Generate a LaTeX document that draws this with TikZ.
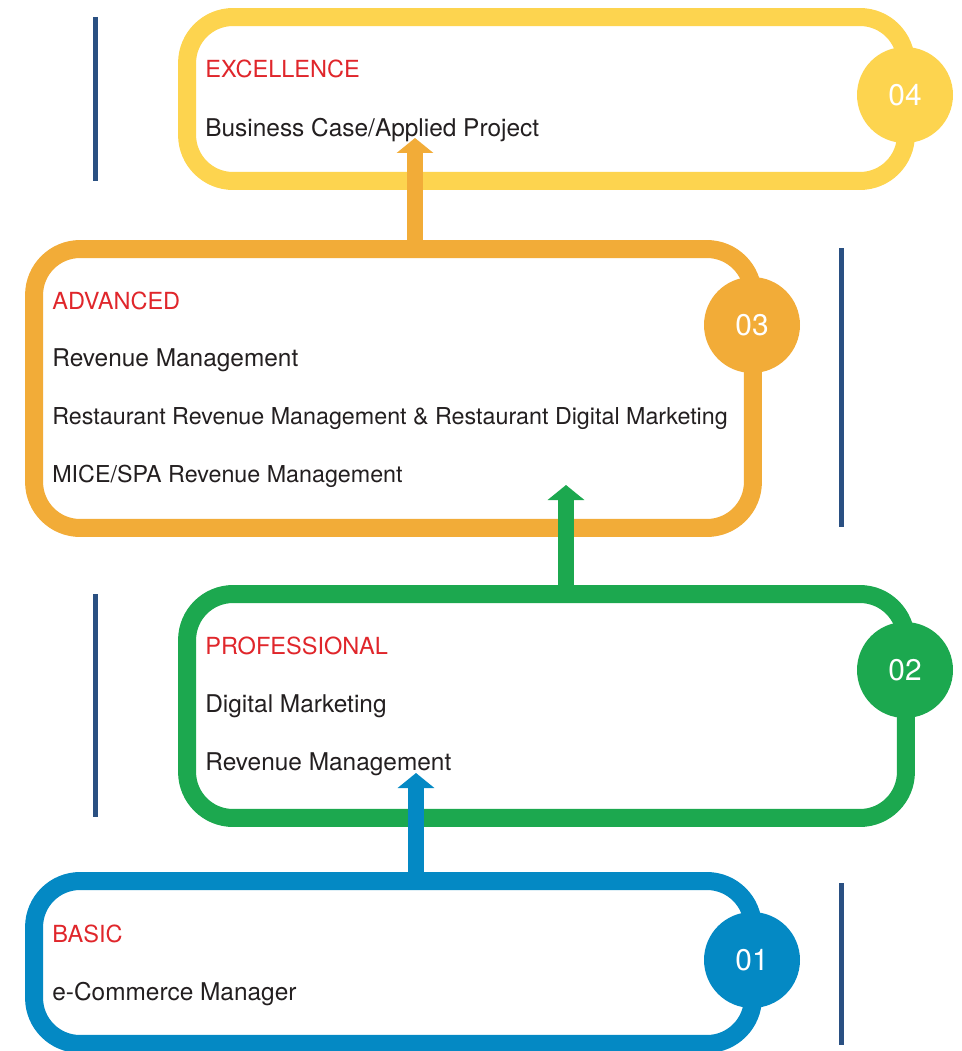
\documentclass[tikz,border=0pt]{standalone}
\usepackage{fontspec}
\setmainfont{TeX Gyre Heros}
\usepackage{tikz}
\usetikzlibrary{arrows.meta}

\definecolor{yellowc}{HTML}{FDD44F}
\definecolor{orangec}{HTML}{F2AC38}
\definecolor{greenc}{HTML}{1CA84F}
\definecolor{bluec}{HTML}{0489C4}
\definecolor{titlec}{HTML}{E0262B}
\definecolor{rulec}{HTML}{2A5082}
\definecolor{textc}{HTML}{231F20}

\begin{document}
\begin{tikzpicture}[x=0.02cm, y=-0.02cm,
    box/.style={draw=#1, line width=0.36cm, rounded corners=0.92cm, fill=white, inner sep=0pt},
    num/.style={circle, fill=#1, minimum size=1.92cm, inner sep=0pt, text=white, font=\fontsize{17}{17}\selectfont},
    title/.style={anchor=base west, inner sep=0pt, text=titlec, font=\fontsize{13.4}{13.4}\selectfont},
    item/.style={anchor=base west, inner sep=0pt, text=textc, font=\fontsize{13.9}{13.9}\selectfont},
    narrow/.style={font=\fontsize{13.25}{13.25}\selectfont},
    uparrow/.style={draw=#1, line width=0.31cm, -{Triangle[width=0.72cm, length=0.3cm]}},
    rule/.style={draw=rulec, line width=0.1cm}]
    \useasboundingbox (0,0) rectangle (962,1051);

    % Side rules
    \draw[rule] (95,17) -- (95,181);
    \draw[rule] (841,248) -- (841,527);
    \draw[rule] (95,594) -- (95,817);
    \draw[rule] (841,883) -- (841,1045);

    % Level 4
    \node[box=yellowc, minimum width=14.38cm, minimum height=3.28cm] (excel) at (546.5,99) {};
    \node[num=yellowc] (n4) at (905,95) {04};
    \node[title] (t4) at (205,78) {EXCELLENCE};
    \node[item] (t4a) at (205,136) {Business Case/Applied Project};

    % Level 3
    \node[box=orangec, minimum width=14.38cm, minimum height=5.58cm] (adv) at (393.5,388.5) {};
    \node[num=orangec] (n3) at (752,325) {03};
    \node[title] (t3) at (52,309) {ADVANCED};
    \node[item] (t3a) at (52,366) {Revenue Management};
    \node[item, narrow] (t3b) at (52,424) {Restaurant Revenue Management \& Restaurant Digital Marketing};
    \node[item, narrow] (t3c) at (52,482) {MICE/SPA Revenue Management};
    \coordinate (tip3) at (415,138);
    \draw[uparrow=orangec] (adv.north -| tip3) -- (tip3);

    % Level 2
    \node[box=greenc, minimum width=14.38cm, minimum height=4.48cm] (prof) at (546.5,706) {};
    \node[num=greenc] (n2) at (905,670) {02};
    \node[title] (t2) at (205,654) {PROFESSIONAL};
    \node[item] (t2a) at (205,712) {Digital Marketing};
    \node[item] (t2b) at (205,770) {Revenue Management};
    \coordinate (tip2) at (566,485);
    \draw[uparrow=greenc] (prof.north -| tip2) -- (tip2);

    % Level 1
    \node[box=bluec, minimum width=14.38cm, minimum height=3.26cm] (basic) at (393.5,962.5) {};
    \node[num=bluec] (n1) at (752,960) {01};
    \node[title] (t1) at (52,942) {BASIC};
    \node[item] (t1a) at (52,1000) {e-Commerce Manager};
    \coordinate (tip1) at (416,773);
    \draw[uparrow=bluec] (basic.north -| tip1) -- (tip1);
\end{tikzpicture}
\end{document}
